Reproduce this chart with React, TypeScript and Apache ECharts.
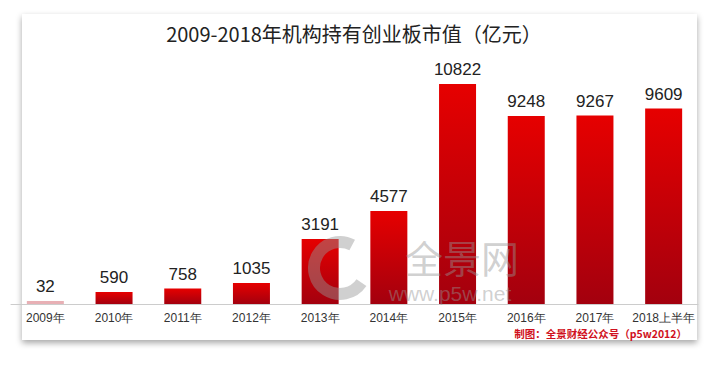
import React, { useEffect, useRef } from "react";
import * as echarts from "echarts";

const categories = ["2009年", "2010年", "2011年", "2012年", "2013年", "2014年", "2015年", "2016年", "2017年", "2018上半年"];
const values = [32, 590, 758, 1035, 3191, 4577, 10822, 9248, 9267, 9609];
const titleText = "2009-2018年机构持有创业板市值（亿元）";
const sourceText = "制图：全景财经公众号（p5w2012）";

export default function App() {
  const ref = useRef<HTMLDivElement>(null);
  useEffect(() => {
    if (!ref.current) return;
    const chart = echarts.init(ref.current, null, { renderer: "svg" });
    const grad = new echarts.graphic.LinearGradient(0, 0, 0, 1, [
      { offset: 0, color: "#e60000" },
      { offset: 1, color: "#a3000e" },
    ]);
    const wm = "rgba(150,150,150,0.45)";
    chart.setOption({
      animation: false,
      backgroundColor: "#ffffff",
      graphic: [
        {
          type: "rect",
          z: -10,
          silent: true,
          shape: { x: 22, y: 14, width: 675, height: 326 },
          style: { fill: "#ffffff", shadowBlur: 6, shadowOffsetY: 3, shadowColor: "rgba(0,0,0,0.35)" },
        },
        {
          type: "text",
          x: 354,
          y: 33,
          style: {
            text: titleText,
            fontSize: 20,
            fill: "#222",
            fontFamily: "Noto Sans CJK SC",
            align: "center",
            verticalAlign: "middle",
          },
        },
        {
          type: "text",
          x: 687,
          y: 333,
          style: {
            text: sourceText,
            fontSize: 10.5,
            fontWeight: "bold",
            fill: "#d01020",
            fontFamily: "Noto Sans CJK SC",
            align: "right",
            verticalAlign: "middle",
          },
        },
        {
          type: "arc",
          z: 100,
          silent: true,
          shape: { cx: 340, cy: 268, r: 26, startAngle: 0.6, endAngle: 5.2 },
          style: { stroke: wm, lineWidth: 12, fill: "none" },
        },
        {
          type: "text",
          z: 100,
          silent: true,
          x: 462,
          y: 256,
          style: { text: "全景网", fontSize: 38, fill: wm, fontFamily: "Noto Sans CJK SC", align: "center", verticalAlign: "middle" },
        },
        {
          type: "text",
          z: 100,
          silent: true,
          x: 450,
          y: 293,
          style: { text: "www.p5w.net", fontSize: 21, fill: wm, fontFamily: "Liberation Sans", align: "center", verticalAlign: "middle" },
        },
      ],
      grid: { left: 11, right: 9, top: 60, bottom: 62 },
      xAxis: {
        type: "category",
        data: categories,
        axisLine: { show: true, lineStyle: { color: "#cccccc" } },
        axisTick: { show: false },
        axisLabel: { color: "#333", fontSize: 12, margin: 8, interval: 0, fontFamily: "Liberation Sans" },
      },
      yAxis: {
        type: "value",
        min: 0,
        max: 12000,
        show: false,
        splitLine: { show: false },
      },
      series: [
        {
          type: "bar",
          barWidth: 37,
          barMinHeight: 3,
          data: values.map((v, i) =>
            i === 0 ? { value: v, itemStyle: { color: "#e8b0b5" } } : { value: v }
          ),
          itemStyle: { color: grad },
          label: {
            show: true,
            position: "top",
            distance: 6,
            color: "#222",
            fontSize: 17,
            fontFamily: "Liberation Sans",
          },
        },
      ],
    });
    return () => chart.dispose();
  }, []);
  return <div ref={ref} style={{ width: 707, height: 366, position: "absolute", left: 0, top: 0 }} />;
}
